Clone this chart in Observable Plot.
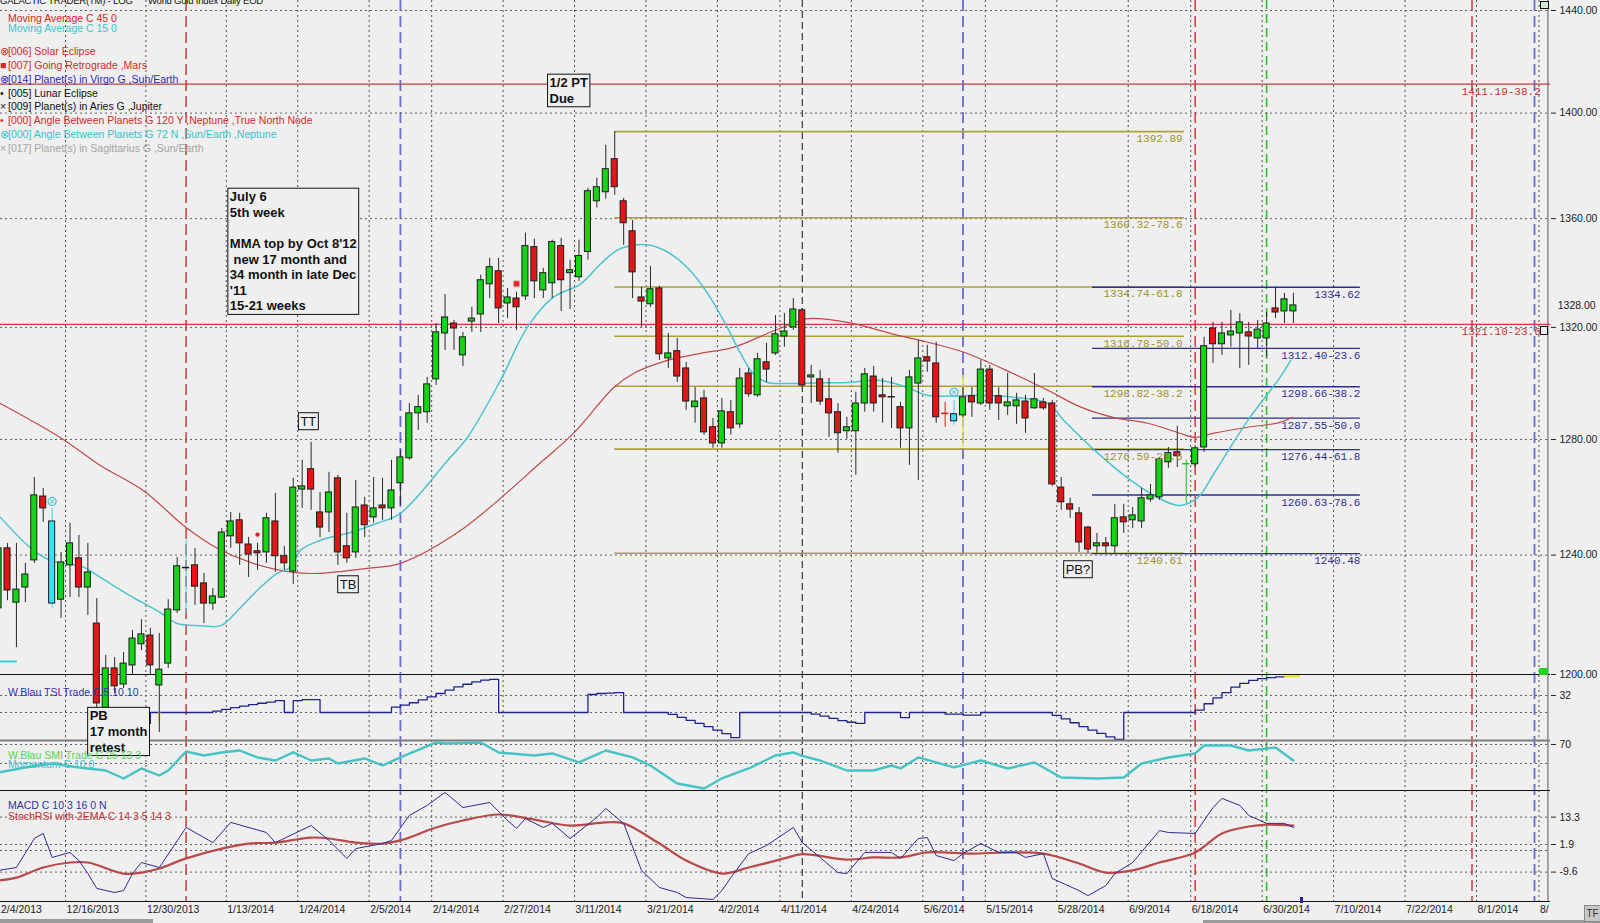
<!DOCTYPE html>
<html><head><meta charset="utf-8">
<script src="https://cdn.jsdelivr.net/npm/d3@7"></script>
<script src="https://cdn.jsdelivr.net/npm/@observablehq/plot@0.6"></script>
<style>
html,body{margin:0;padding:0;background:#EFEFEF;}
#chart{position:relative;width:1600px;height:923px;overflow:hidden;background:#EFEFEF;font-family:"Liberation Sans",Arial,sans-serif;}
#chart svg{position:absolute;left:0;}
.t{position:absolute;white-space:pre;font-size:10.5px;line-height:12px;}
.sym{display:inline-block;width:8px;}
</style></head><body><div id="chart"></div>
<script>
// ---------- DATA ----------
const opens = [1222.0,1242.3,1223.9,1229.0,1238.2,1260.1,1251.5,1224.9,1236.5,1238.9,1229.0,1216.9,1187.6,1202.0,1196.7,1203.0,1210.0,1212.9,1196.4,1203.6,1221.3,1235.9,1236.5,1230.4,1223.6,1225.6,1246.4,1251.9,1243.6,1241.3,1240.9,1251.5,1239.6,1234.4,1262.5,1269.6,1254.6,1254.6,1266.4,1243.0,1240.9,1257.0,1252.9,1257.0,1256.0,1264.7,1273.4,1289.2,1289.6,1301.3,1317.8,1321.4,1309.9,1322.1,1324.7,1335.7,1340.5,1328.7,1330.5,1331.3,1349.4,1333.5,1336.1,1349.8,1339.8,1338.3,1347.6,1366.5,1369.9,1382.4,1366.5,1355.3,1330.9,1328.4,1334.2,1308.8,1311.4,1305.2,1291.4,1294.5,1284.3,1278.6,1289.6,1285.3,1303.4,1295.6,1307.4,1310.6,1316.7,1320.0,1326.2,1302.0,1301.3,1294.2,1289.6,1282.9,1282.9,1292.7,1302.3,1295.6,1295.3,1291.4,1283.9,1299.8,1309.2,1307.0,1289.2,1286.4,1288.5,1295.3,1292.7,1304.8,1295.3,1291.7,1291.7,1293.4,1291.0,1293.1,1292.7,1263.2,1257.4,1254.3,1249.4,1243.0,1244.0,1243.0,1252.9,1251.9,1251.5,1259.1,1259.8,1272.0,1275.5,1271.5,1271.3,1277.2,1319.6,1313.9,1317.1,1317.8,1318.2,1316.0,1316.0,1326.9,1325.8,1325.8];
const highs = [1245.0,1244.0,1244.0,1237.2,1266.7,1262.9,1256.0,1240.9,1250.9,1246.7,1244.0,1225.3,1206.3,1205.6,1207.3,1214.6,1218.2,1215.3,1213.6,1224.9,1239.2,1245.0,1242.3,1233.8,1228.7,1249.1,1254.6,1254.3,1246.0,1244.0,1254.3,1261.2,1243.0,1266.4,1272.7,1279.0,1261.5,1268.5,1267.4,1254.3,1265.7,1259.8,1266.7,1266.4,1272.7,1276.2,1292.7,1295.6,1302.0,1321.4,1332.0,1322.5,1318.2,1327.3,1339.1,1345.3,1345.3,1334.2,1332.8,1354.6,1352.4,1341.6,1352.0,1352.7,1344.6,1352.0,1371.4,1375.2,1387.7,1392.9,1367.6,1359.4,1334.6,1342.3,1335.0,1317.8,1316.0,1307.4,1298.4,1297.4,1287.4,1294.5,1293.8,1305.2,1305.2,1310.6,1314.2,1324.3,1325.0,1330.5,1326.9,1306.3,1304.5,1301.6,1292.7,1287.8,1296.7,1305.2,1305.9,1301.6,1302.0,1293.1,1304.5,1315.3,1313.5,1314.6,1293.1,1293.8,1298.4,1298.4,1308.1,1306.3,1298.4,1303.4,1296.3,1295.6,1303.4,1294.5,1293.8,1266.7,1259.5,1256.3,1249.8,1247.4,1246.0,1257.4,1257.4,1256.3,1262.9,1264.3,1273.7,1277.2,1284.6,1272.7,1277.9,1316.4,1321.8,1321.8,1326.2,1325.0,1321.8,1322.5,1325.4,1334.6,1332.4,1332.4];
const lows = [1220.6,1224.6,1208.9,1223.9,1237.2,1251.2,1222.0,1218.6,1225.6,1225.6,1219.6,1187.3,1186.6,1193.7,1195.4,1199.7,1207.9,1199.7,1181.0,1202.0,1220.3,1220.3,1223.0,1216.9,1221.3,1225.3,1242.3,1236.5,1232.4,1234.8,1237.2,1234.1,1234.8,1230.1,1256.0,1255.3,1246.0,1247.7,1236.5,1237.2,1238.9,1246.0,1250.9,1251.9,1251.9,1257.0,1272.7,1283.2,1285.7,1299.1,1311.7,1311.7,1305.9,1318.2,1318.2,1330.5,1321.4,1323.2,1318.9,1329.8,1330.5,1330.5,1330.5,1325.8,1326.5,1336.8,1344.6,1364.0,1367.3,1368.8,1350.1,1330.5,1320.0,1327.3,1308.1,1305.2,1300.2,1290.3,1285.7,1281.5,1276.9,1276.9,1281.5,1283.9,1294.9,1294.9,1300.2,1309.9,1312.8,1318.9,1298.4,1292.7,1292.0,1280.7,1275.2,1280.0,1267.5,1289.6,1289.6,1285.7,1283.9,1276.9,1270.9,1265.7,1303.8,1285.7,1284.3,1285.0,1287.8,1287.8,1292.0,1290.3,1286.7,1288.5,1285.3,1282.2,1290.6,1290.3,1263.6,1255.3,1252.6,1240.9,1240.6,1240.6,1240.6,1240.6,1247.4,1249.1,1249.1,1258.1,1258.8,1269.9,1270.2,1257.7,1270.2,1275.5,1307.0,1309.9,1312.8,1305.2,1306.3,1312.4,1309.2,1323.2,1321.4,1321.4];
const closes = [1242.3,1228.0,1228.3,1233.4,1260.5,1256.0,1223.6,1237.5,1244.0,1229.0,1234.1,1190.5,1202.0,1196.1,1203.6,1211.9,1213.3,1203.0,1201.6,1221.6,1236.2,1235.6,1229.3,1223.6,1226.0,1247.7,1251.5,1244.0,1240.2,1240.6,1252.6,1239.6,1237.2,1263.2,1263.6,1262.5,1249.4,1261.5,1240.9,1238.9,1256.3,1250.2,1256.0,1256.0,1262.2,1273.7,1289.2,1291.4,1299.5,1318.2,1323.6,1319.6,1316.4,1323.2,1337.2,1342.0,1326.9,1330.9,1327.3,1349.8,1336.8,1339.8,1351.3,1337.2,1340.9,1346.1,1370.3,1371.8,1378.6,1371.8,1358.3,1340.1,1329.4,1333.9,1310.3,1310.6,1302.3,1293.4,1293.4,1282.5,1278.6,1289.9,1283.9,1301.6,1296.0,1308.5,1304.8,1317.5,1318.5,1326.5,1299.1,1302.7,1293.4,1289.2,1282.2,1284.3,1292.7,1303.1,1292.7,1294.9,1294.9,1283.9,1302.0,1308.8,1307.7,1287.8,1289.2,1288.9,1294.9,1293.1,1304.8,1292.7,1292.7,1293.1,1293.8,1287.4,1294.2,1291.0,1264.3,1258.1,1255.6,1244.3,1241.9,1244.0,1243.0,1252.6,1251.2,1253.6,1259.5,1260.5,1273.0,1275.2,1274.1,1271.5,1276.9,1313.2,1313.9,1317.8,1318.5,1321.8,1316.7,1319.2,1321.4,1325.4,1330.2,1328.0];
const cyanBars = [6, 21, 107];
const crossDownBars = [106];
const crossUpBars = [133];

const ma45 = [[0.2,1292.7],[6.9,1280.7],[11.4,1270.9],[16.2,1262.2],[21.0,1249.4],[24.5,1242.3],[28.2,1237.5],[33.0,1234.1],[36.0,1233.8],[41.3,1235.5],[45.0,1237.2],[51.6,1248.1],[61.0,1272.7],[64.4,1282.2],[68.9,1298.4],[71.1,1303.4],[74.9,1308.1],[78.6,1310.6],[82.3,1312.8],[86.1,1317.8],[89.8,1322.5],[90.6,1323.2],[95.1,1321.8],[100.7,1317.1],[103.2,1315.3],[108.1,1311.0],[113.6,1303.4],[117.5,1297.4],[121.2,1291.4],[124.8,1287.8],[128.7,1285.7],[132.3,1282.2],[134.0,1280.7],[136.1,1282.2],[139.9,1284.3],[143.5,1286.0],[144.9,1287.8]];
const ma15 = [[0.2,1252.9],[3.9,1241.6],[5.8,1238.2],[9.5,1235.9],[11.4,1232.4],[15.1,1225.6],[18.1,1220.6],[20.0,1216.9],[22.6,1216.2],[24.9,1216.2],[27.1,1222.3],[29.3,1229.0],[31.2,1233.8],[32.7,1235.9],[33.8,1241.6],[36.0,1245.0],[39.4,1247.7],[42.4,1250.9],[45.0,1254.3],[50.3,1272.7],[52.5,1280.7],[56.2,1300.9],[59.2,1320.0],[62.1,1330.9],[65.2,1335.9],[67.4,1343.2],[69.3,1348.3],[71.1,1350.1],[73.0,1350.1],[74.9,1347.6],[77.1,1342.0],[79.4,1332.4],[81.6,1320.0],[83.1,1310.6],[84.5,1303.4],[86.1,1300.2],[87.9,1299.8],[91.3,1300.0],[95.1,1300.2],[98.8,1300.9],[101.8,1298.4],[104.0,1295.6],[110.0,1295.6],[113.6,1294.9],[117.5,1292.7],[119.3,1286.7],[123.1,1275.2],[126.8,1265.7],[130.4,1258.8],[132.3,1257.0],[134.3,1259.8],[136.1,1268.1],[139.9,1286.7],[143.5,1302.0],[144.7,1308.1]];

const tsi = [[11,21.7],[13,20.5],[17,25.0],[24,25.6],[25,26.3],[26,27.0],[27,27.6],[28,28.2],[29,28.8],[30,29.3],[31,29.9],[32,25.0],[33,29.9],[34,30.3],[36,25.0],[44,27.2],[45,28.0],[46,29.0],[47,30.2],[48,31.4],[49,32.8],[50,34.2],[51,35.5],[52,36.6],[53,37.6],[54,38.3],[55,38.6],[56,25.0],[66,32.4],[67,32.8],[68,33.0],[69,33.2],[70,25.0],[75,24.2],[76,23.0],[77,21.8],[78,20.5],[79,19.2],[80,17.8],[81,16.3],[82,14.7],[83,25.0],[91,24.3],[92,23.5],[93,22.6],[94,21.7],[95,21.0],[96,20.5],[97,25.0],[101,22.9],[102,25.0],[106,24.3],[108,23.9],[110,25.0],[118,23.8],[119,22.4],[120,20.8],[121,19.2],[122,17.8],[123,16.4],[124,15.0],[125,14.0],[126,25.0],[134,26.0],[135,28.6],[136,31.0],[137,33.2],[138,35.4],[139,37.0],[140,38.2],[141,38.9],[142,39.3],[143,39.6],[144,39.9],[145,40.0]];
const smi = [[0,25.8],[3,33.7],[6,40.0],[9,33.7],[12,28.9],[14,16.3],[16,32.1],[18,21.0],[19,28.9],[21,58.9],[23,52.6],[25,57.4],[27,60.5],[29,49.5],[31,44.7],[33,57.4],[35,44.7],[37,47.9],[38,40.0],[41,47.9],[43,36.8],[45,49.5],[49,73.2],[50,71.6],[54,73.2],[56,57.4],[60,52.6],[62,55.8],[65,41.6],[68,60.5],[71,49.5],[73,36.8],[76,8.4],[79,0.5],[81,16.3],[84,32.1],[87,52.6],[89,57.4],[90,52.0],[92,44.7],[95,28.9],[98,28.9],[100,36.8],[101,32.1],[103,49.5],[107,33.7],[110,44.7],[113,32.1],[116,41.6],[119,17.9],[123,16.3],[126,17.9],[128,40.0],[131,49.5],[134,55.8],[135,68.4],[138,68.4],[140,60.5],[143,65.3],[145,44.7]];
const macd = [[0,-8.9],[2,-7.7],[4,4.4],[5,6.5],[6,-3.5],[8,-1.4],[9,-4.8],[10,-10.2],[11,-16.4],[13,-18.1],[14,-17.3],[15,-10.2],[16,-5.6],[18,-7.7],[21,9.0],[24,2.7],[26,11.1],[30,6.9],[31,2.7],[35,9.8],[37,3.6],[39,-3.9],[40,0.2],[43,2.3],[44,3.6],[46,14.0],[48,18.2],[50,23.6],[52,17.3],[55,19.4],[57,11.9],[58,8.6],[59,12.7],[61,9.0],[62,10.7],[64,4.4],[67,13.2],[68,16.9],[70,10.7],[72,-8.9],[74,-16.0],[76,-18.1],[77,-20.2],[80,-21.0],[81,-17.3],[82,-11.9],[84,-1.9],[86,1.5],[89,9.0],[90,2.7],[92,-3.5],[94,-9.8],[95,-10.2],[97,-1.4],[100,-1.4],[101,-3.9],[103,4.4],[104,4.8],[105,-2.7],[107,-4.8],[108,-1.9],[110,2.3],[112,-1.4],[114,-1.4],[115,-3.5],[117,-1.9],[118,-12.3],[121,-17.3],[122,-19.4],[123,-17.3],[124,-15.2],[125,-10.2],[127,-5.6],[130,7.7],[131,6.9],[134,6.5],[136,17.3],[137,21.1],[139,18.2],[140,14.0],[142,10.7],[144,10.7],[145,9.0]];
const stochRsi = [[0,-13.1],[2,-11.9],[5,-7.7],[8,-5.6],[10,-5.6],[14,-10.2],[16,-9.8],[18,-8.1],[21,-3.9],[25,0.2],[28,2.3],[31,2.7],[35,4.8],[37,4.4],[40,2.7],[43,2.3],[45,3.6],[49,9.0],[52,11.9],[56,14.4],[60,12.3],[64,9.8],[68,11.1],[70,10.7],[74,2.3],[77,-4.8],[81,-10.2],[84,-7.7],[88,-3.9],[90,-2.1],[95,-4.4],[98,-3.5],[101,-3.5],[104,-1.4],[109,-1.9],[113,-1.4],[117,-1.9],[121,-6.0],[124,-9.8],[127,-8.9],[130,-5.6],[134,-1.4],[137,6.5],[140,9.4],[142,10.2],[145,9.8]];

const tickBars = [0,8,17,26,34,42,49,57,65,73,81,88,96,104,111,119,127,134,142,150,158,166,173];
const tickLabels = ["12/4/2013","12/16/2013","12/30/2013","1/13/2014","1/24/2014","2/5/2014","2/14/2014","2/27/2014","3/11/2014","3/21/2014","4/2/2014","4/11/2014","4/24/2014","5/6/2014","5/15/2014","5/28/2014","6/9/2014","6/18/2014","6/30/2014","7/10/2014","7/22/2014","8/1/2014","8/"];
const priceTicks = [1200,1240,1280,1320,1360,1400,1440];
const tsiTicks = [32];
const smiTicks = [70];
const macdTicks = [13.3, 1.9, -9.6];
const lastClose = 1328.0;

const eventBars = [21, 45, 90, 108, 134, 142, 165, 172];
const eventKinds = ["red", "blue", "black", "blue", "red", "green", "red", "blue"];

const goldLevels = [1392.89, 1360.32, 1334.74, 1316.78, 1298.82, 1276.59, 1240.61];
const goldLabels = ["1392.89", "1360.32-78.6", "1334.74-61.8", "1316.78-50.0", "1298.82-38.2", "1276.59-23.6", "1240.61"];
const blueLevels = [1334.62, 1312.40, 1298.66, 1287.55, 1276.44, 1260.63, 1240.48];
const blueLabels = ["1334.62", "1312.40-23.6", "1298.66-38.2", "1287.55-50.0", "1276.44-61.8", "1260.63-78.6", "1240.48"];
const redLevels = [1411.19, 1321.10];
const redLabels = ["1411.19-38.2", "1321.10-23.6"];

const markerBars = [6, 107, 29, 58];
const markerPrices = [1258.4, 1296.7, 1247.0, 1335.9];
const markerKinds = ["circle", "circle", "dot", "square"];

const noteTexts = ["1/2 PT\nDue", "July 6\n5th week\n\u00a0\nMMA top by Oct 8'12\n new 17 month and\n34 month in late Dec\n'11\n15-21 weeks", "PB\n17 month\nretest", "TT", "TB", "PB?"];
const noteBars = [62.2, 26.4, 10.7, 34.3, 38.7, 120.0];
const notePrices = [1414.3, 1370.7, 1188.6, 1288.1, 1231.7, 1236.8];
const noteBold = [true, true, true, false, false, false];

// ---------- BUILD ----------
const chart = document.getElementById("chart");
const X = {domain: [0, 174], range: [-6.4, 1547.4], axis: null};
const style = {background: "transparent", fontFamily: '"Liberation Sans", Arial, sans-serif', fontSize: "10.5px", color: "#222", overflow: "hidden"};
function place(svg, top) { svg.style.top = top + "px"; chart.appendChild(svg); return svg; }

const candles = opens.map((o, i) => ({i, o, h: highs[i], l: lows[i], c: closes[i]}));
function kind(d) {
  if (cyanBars.includes(d.i)) return "cyan";
  if (crossDownBars.includes(d.i)) return "crossDown";
  if (crossUpBars.includes(d.i)) return "crossUp";
  return d.c > d.o ? "up" : d.c < d.o ? "down" : "flat";
}
const fillOf = {up: "#14d414", down: "#e31616", cyan: "#33e3f3", crossDown: "#e31616", crossUp: "#14c814", flat: "#222"};
const isDoji = d => Math.abs(d.c - d.o) < 0.6 || kind(d).startsWith("cross");
const wickColor = d => { const k = kind(d); return k === "cyan" ? "#33d8e8" : k.startsWith("cross") ? fillOf[k] : "#2a2a2a"; };

// Grid + date axis (behind everything)
const events = eventBars.map((b, j) => ({b, k: eventKinds[j]}));
const evMark = (k, stroke, dash, w) => Plot.ruleX(events.filter(e => e.k === k), {x: e => e.b + 0.5, stroke, strokeDasharray: dash, strokeWidth: w});
place(Plot.plot({
  width: 1600, height: 923, marginTop: 0, marginBottom: 22, marginLeft: 0, marginRight: 50,
  x: X, style,
  marks: [
    Plot.ruleX(tickBars, {stroke: "#505050", strokeDasharray: "2,3"}),
    evMark("red", "#d44646", "11,5", 1.6),
    evMark("blue", "#6a6ad0", "11,5", 1.8),
    evMark("black", "#111", "7,4", 1),
    evMark("green", "#28c428", "9,5", 1.6),
    Plot.ruleX([174], {stroke: "#8a8a8a", strokeWidth: 1.5}),
    Plot.text(tickBars, {x: d => d, text: (d, j) => tickLabels[j], frameAnchor: "bottom", dy: 11, dx: 1, textAnchor: "start", fill: "#222"})
  ]
}), 0);

// TSI panel
place(Plot.plot({
  width: 1600, height: 67, marginTop: 0, marginBottom: 0, marginLeft: 0, marginRight: 50,
  x: X, y: {domain: [13.5, 40.2], range: [65, 0], axis: null}, style,
  marks: [
    Plot.ruleY([32, 25], {stroke: "#606060", strokeDasharray: "2,3"}),
    Plot.line(tsi, {x: d => d[0] + 0.5, y: d => d[1], curve: "step-after", stroke: "#22228c", strokeWidth: 1.3}),
    Plot.ruleX([18], {x: d => d + 0.5, y1: 21, y2: 25, stroke: "#e8e440", strokeWidth: 2}),
    Plot.ruleY([40], {x1: 144.5, x2: 146.3, stroke: "#e8e040", strokeWidth: 3}),
    Plot.ruleY([13.5], {stroke: "#7c7c7c", strokeWidth: 2}),
    Plot.axisY({ticks: tsiTicks, anchor: "right", tickSize: 5, tickPadding: 4, label: null})
  ]
}), 675);

// SMI panel (svg starts 10px above the panel so the "70" label is not clipped)
place(Plot.plot({
  width: 1600, height: 62, marginTop: 0, marginBottom: 0, marginLeft: 0, marginRight: 50,
  x: X, y: {domain: [-2.7, 76.3], range: [60, 10], axis: null}, style,
  marks: [
    Plot.ruleY([70, 40], {stroke: "#606060", strokeDasharray: "2,3"}),
    Plot.line(smi, {x: d => d[0] + 0.5, y: d => d[1], stroke: "#46c4c4", strokeWidth: 2.4}),
    Plot.ruleY([-2.7], {stroke: "#111", strokeWidth: 1.2}),
    Plot.axisY({ticks: smiTicks, anchor: "right", tickSize: 5, tickPadding: 4, label: null})
  ]
}), 730);

// MACD panel
place(Plot.plot({
  width: 1600, height: 113, marginTop: 0, marginBottom: 0, marginLeft: 0, marginRight: 50,
  x: X, y: {domain: [-21.85, 24.4], range: [111, 0], axis: null}, style,
  marks: [
    Plot.ruleY([13.3, 1.9, -0.6, -9.6], {stroke: "#606060", strokeDasharray: "2,3"}),
    Plot.line(stochRsi, {x: d => d[0] + 0.5, y: d => d[1], stroke: "#b84a4a", strokeWidth: 2.2, curve: "catmull-rom"}),
    Plot.line(macd, {x: d => d[0] + 0.5, y: d => d[1], stroke: "#2c2c8e", strokeWidth: 1}),
    Plot.ruleY([-21.85], {stroke: "#111", strokeWidth: 1.2}),
    Plot.axisY({ticks: macdTicks, anchor: "right", tickSize: 5, tickPadding: 4, label: null, tickFormat: d => String(d)})
  ]
}), 790);

// Main price panel (on top)
const markers = markerBars.map((b, j) => ({b, p: markerPrices[j], k: markerKinds[j]}));
const notes = noteTexts.map((t, j) => ({t, b: noteBars[j], p: notePrices[j], bold: noteBold[j]}));
const goldFib = goldLevels.map((v, j) => ({v, t: goldLabels[j]}));
const blueFib = blueLevels.map((v, j) => ({v, t: blueLabels[j]}));
const redFib = redLevels.map((v, j) => ({v, t: redLabels[j]}));
const mono = '"Liberation Mono", "DejaVu Sans Mono", monospace';
const main = place(Plot.plot({
  width: 1600, height: 760, marginTop: 0, marginBottom: 0, marginLeft: 0, marginRight: 50,
  x: X, y: {type: "log", domain: [1200, 1440], range: [674, 10], axis: null},
  color: {type: "identity"}, style,
  marks: [
    Plot.ruleY(priceTicks.slice(1), {stroke: "#606060", strokeDasharray: "2,3"}),
    Plot.ruleY(redFib, {y: "v", stroke: "#c83c3c", strokeWidth: 1.3}),
    Plot.ruleY(goldFib, {y: "v", x1: 69.5, x2: 133.3, stroke: "#aea236", strokeWidth: 1.6}),
    Plot.ruleY(blueFib, {y: "v", x1: 123.0, x2: 153.0, stroke: "#2e2e96", strokeWidth: 1.3}),
    Plot.ruleY([1200], {stroke: "#111", strokeWidth: 1.2}),
    Plot.ruleY([1204.3], {x1: 0.7, x2: 2.6, stroke: "#33d0e0", strokeWidth: 2}),
    Plot.ruleX([108], {x: d => d + 0.5, y1: 1277.2, y2: 1302.7, stroke: "#e8e040", strokeWidth: 1.5}),
    Plot.line(ma45, {x: d => d[0] + 0.5, y: d => d[1], stroke: "#c04a4a", strokeWidth: 1.2, curve: "catmull-rom"}),
    Plot.line(ma15, {x: d => d[0] + 0.5, y: d => d[1], stroke: "#4cc4cc", strokeWidth: 1.5, curve: "catmull-rom"}),
    Plot.ruleX(candles, {x: d => d.i + 0.5, y1: "l", y2: "h", stroke: wickColor, strokeWidth: 1}),
    Plot.rect(candles.filter(d => !isDoji(d)), {x1: d => d.i + 0.5 - 0.34, x2: d => d.i + 0.5 + 0.34, y1: "o", y2: "c", fill: d => fillOf[kind(d)], stroke: "#1c1c1c", strokeWidth: 1}),
    Plot.ruleY(candles.filter(isDoji), {y: d => (d.o + d.c) / 2, x1: d => d.i + 0.5 - 0.4, x2: d => d.i + 0.5 + 0.4, stroke: d => kind(d).startsWith("cross") ? fillOf[kind(d)] : "#1c1c1c", strokeWidth: 1.5}),
    Plot.dot(markers.filter(m => m.k === "circle"), {x: m => m.b + 0.5, y: "p", r: 4, stroke: "#3cc4d6", strokeWidth: 1.2, fill: "none"}),
    Plot.dot(markers.filter(m => m.k === "circle"), {x: m => m.b + 0.5, y: "p", r: 2.2, symbol: "times", stroke: "#3cc4d6", strokeWidth: 1}),
    Plot.dot(markers.filter(m => m.k === "dot"), {x: m => m.b + 0.5, y: "p", r: 2.2, fill: "#e02020", stroke: "none"}),
    Plot.dot(markers.filter(m => m.k === "square"), {x: m => m.b + 0.5, y: "p", r: 3.2, symbol: "square", fill: "#e82020", stroke: "#f09090", strokeWidth: 1}),
    Plot.text(goldFib, {y: "v", x: 133.1, text: "t", textAnchor: "end", dy: 7, fill: "#9c9428", fontFamily: mono, fontSize: 11}),
    Plot.text(blueFib, {y: "v", x: 153.0, text: "t", textAnchor: "end", dy: 7, fill: "#2e2e8e", fontFamily: mono, fontSize: 11}),
    Plot.text(redFib, {y: "v", x: 173.2, text: "t", textAnchor: "end", dy: 7, fill: "#c83232", fontFamily: mono, fontSize: 11}),
    Plot.axisY({ticks: priceTicks, anchor: "right", tickSize: 5, tickPadding: 4, label: null, tickFormat: d => d.toFixed(2)}),
    Plot.text([lastClose], {x: 175.1, y: d => d, text: d => d.toFixed(2), textAnchor: "start", fill: "#222"}),
    Plot.text(notes.filter(n => n.bold), {x: "b", y: "p", text: "t", textAnchor: "start", lineAnchor: "top", fontWeight: "bold", fontSize: 13, lineHeight: 1.2, fill: "#111"}),
    Plot.text(notes.filter(n => !n.bold), {x: "b", y: "p", text: "t", textAnchor: "start", lineAnchor: "top", fontSize: 13, fill: "#111"})
  ]
}), 0);

// boxes around annotation notes (find the note texts by content)
const noteKeys = new Set(noteTexts.map(t => t.replace(/\n/g, "")));
main.querySelectorAll("text").forEach(t => {
  if (!noteKeys.has(t.textContent)) return;
  const b = t.getBBox();
  const r = document.createElementNS("http://www.w3.org/2000/svg", "rect");
  r.setAttribute("x", b.x - 2); r.setAttribute("y", b.y - 1);
  r.setAttribute("width", b.width + 4); r.setAttribute("height", b.height + 2);
  r.setAttribute("fill", "#EFEFEF"); r.setAttribute("stroke", "#111"); r.setAttribute("stroke-width", "1");
  const tr = t.getAttribute("transform"); if (tr) r.setAttribute("transform", tr);
  t.parentNode.insertBefore(r, t);
});

// ---------- HTML text overlays (legend, panel labels) ----------
function addText(txt, left, top, color, extra) {
  const d = document.createElement("div");
  d.className = "t"; d.style.left = left + "px"; d.style.top = top + "px"; d.style.color = color;
  if (extra) Object.assign(d.style, extra);
  d.innerHTML = txt; chart.appendChild(d); return d;
}
addText("GALACTIC TRADER(TM) - LOG", 0, -5, "#111", {fontSize: "9.5px", letterSpacing: "-0.2px"});
addText("World Gold Index Daily EOD", 148, -5, "#111", {fontSize: "9.5px", letterSpacing: "-0.2px"});
addText("Moving Average C 45 0", 8, 12, "#e02424");
addText("Moving Average C 15 0", 8, 22, "#36c8cc");
const legendRows = [
  ["⊗", "[006] Solar Eclipse", "#d42a2a", 45],
  ["■", "[007] Going Retrograde ,Mars", "#d42a2a", 59],
  ["⊗", "[014] Planet(s) in Virgo G ,Sun/Earth", "#2828c0", 73],
  ["•", "[005] Lunar Eclipse", "#111", 87],
  ["×", "[009] Planet(s) in Aries G ,Jupiter", "#111", 100],
  ["•", "[000] Angle Between Planets G 120 Y ,Neptune ,True North Node", "#d42a2a", 114],
  ["⊗", "[000] Angle Between Planets G 72 N ,Sun/Earth ,Neptune", "#36c4cc", 128],
  ["×", "[017] Planet(s) in Sagittarius G ,Sun/Earth", "#a4a4a4", 142]
];
legendRows.forEach(r => addText('<span class="sym">' + r[0] + '</span>' + r[1], 0, r[3], r[2]));
addText("W.Blau TSI Trade C 5 10 10", 8, 686, "#3030a8");
addText("W.Blau SMI Trade C 25 13 3", 8, 749, "#54d454");
addText("Momentum C 10 0", 8, 758, "#40c4cc");
addText("MACD C 10 3 16 0 N", 8, 799, "#3030a8");
addText("StochRSI with 2EMA C 14 3 5 14 3", 8, 810, "#c03030");

// small chrome elements
function box(left, top, w, h, css) { const d = document.createElement("div"); Object.assign(d.style, {position: "absolute", left: left + "px", top: top + "px", width: w + "px", height: h + "px"}, css); chart.appendChild(d); return d; }
box(1539, 668, 9, 7, {background: "#22d422"});
box(1540, 1, 7, 6, {border: "1px solid #111", background: "#cfe8cf"});
box(1540, 326, 6, 7, {border: "1px solid #111", background: "#EFEFEF"});
box(1300, 897, 3, 6, {background: "#2020a0"});
box(0, 919, 153, 4, {background: "#9a9a9a"});
box(1203, 920, 397, 3, {background: "#9a9a9a"});
box(1584, 905, 15, 15, {background: "#c8c8c8", border: "1px solid #888", fontSize: "10px", lineHeight: "15px", textAlign: "center", color: "#333"}).textContent = "TF";
</script></body></html>
